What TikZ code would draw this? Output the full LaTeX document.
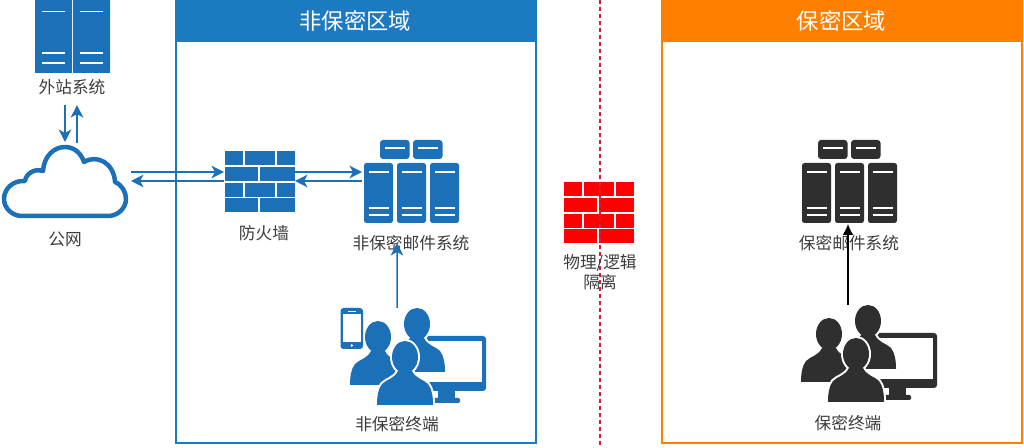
\documentclass[tikz,border=0pt]{standalone}
\usepackage{fontspec}
\setmainfont{Noto Sans CJK SC}
\usetikzlibrary{arrows.meta}
\definecolor{zoneblue}{HTML}{1C7AC0}
\definecolor{iconblue}{HTML}{1B70B8}
\definecolor{zoneorange}{HTML}{FF8000}
\definecolor{icondark}{HTML}{2F2F2F}
\definecolor{labelgray}{HTML}{3C3C3C}
\definecolor{splitred}{HTML}{D81E3C}
\tikzset{
	label/.style={text=labelgray, font=\fontsize{9.5}{11.5}\selectfont, inner sep=0pt, align=center},
	zonebox/.style={draw=#1, line width=0.035cm, fill=white, minimum width=7.2cm, minimum height=8.9cm, anchor=north west, inner sep=0pt},
	zonehead/.style={fill=#1, text=white, font=\fontsize{12.7}{14}\selectfont, minimum width=7.2cm, minimum height=0.84cm, anchor=north west, inner sep=0pt},
	blueflow/.style={-{Stealth[length=0.25cm,width=0.25cm,inset=0.07cm]}, draw=iconblue, line width=0.03cm},
	blackflow/.style={-{Latex[length=0.22cm,width=0.22cm]}, draw=black, line width=0.03cm},
	pics/wall/.style={code={
		\foreach \y in {0,31.6}{
			\fill[#1] (0,\y) rectangle (18,\y+14);
			\fill[#1] (20,\y) rectangle (50,\y+14);
			\fill[#1] (52,\y) rectangle (70,\y+14);
			\fill[#1] (0,\y+15.8) rectangle (33,\y+29.8);
			\fill[#1] (35,\y+15.8) rectangle (70,\y+29.8);
		}
	}},
	pics/rack/.style={code={
		\fill[#1, rounded corners=0.05cm] (0,0) rectangle (29,60);
		\foreach \y in {9,45,52}{
			\draw[white, line width=0.03cm] (4.5,\y) -- (24.5,\y);
		}
	}},
	pics/cluster/.style={code={
		\foreach \x in {16,49}{
			\fill[#1, rounded corners=0.06cm] (\x,-23) rectangle (\x+29.5,-4);
			\draw[white, line width=0.03cm] (\x+5,-15) -- (\x+24.5,-15);
		}
		\foreach \x in {0,33,66}{
			\pic at (\x,0) {rack=#1};
		}
	}},
	pics/person/.style={code={
		\path[draw=white, line width=0.08cm] (-28,48) .. controls (-28,40) and (-27,32) .. (-23,27)
			.. controls (-18,22) and (-11,22) .. (-7,14) -- (7,14)
			.. controls (11,22) and (18,22) .. (23,27)
			.. controls (27,32) and (28,40) .. (28,48) -- cycle;
		\path[draw=white, line width=0.08cm] (0,0) ellipse [x radius=13, y radius=16];
		\fill[#1] (-28,48) .. controls (-28,40) and (-27,32) .. (-23,27)
			.. controls (-18,22) and (-11,22) .. (-7,14) -- (7,14)
			.. controls (11,22) and (18,22) .. (23,27)
			.. controls (27,32) and (28,40) .. (28,48) -- cycle;
		\fill[#1] (0,0) ellipse [x radius=13, y radius=16];
	}},
	pics/crowd/.style={code={
		\fill[#1, rounded corners=0.06cm] (33,-1) rectangle (109,54);
		\fill[white] (37,4) rectangle (105,45);
		\fill[#1] (61,54) rectangle (78,62);
		\fill[#1, rounded corners=0.03cm] (56,61) rectangle (83,66);
		\pic at (40,-13) {person=#1};
		\pic at (1,0) {person=#1};
		\pic at (28,20) {person=#1};
	}},
}
\begin{document}
\begin{tikzpicture}[x=0.02cm,y=-0.02cm]
	\useasboundingbox (0,0) rectangle (1024,448);

	% zones
	\node[zonebox=zoneblue] (plainzone) at (175,-3) {};
	\node[zonebox=zoneorange] (secretzone) at (661,-3) {};
	\node[zonehead=zoneblue] (plainhead) at (175,0) {非保密区域};
	\node[zonehead=zoneorange] (secrethead) at (661,0) {保密区域};

	% split line
	\coordinate (splittop) at (600,0);
	\coordinate (splitbottom) at (600,448);
	\pic at (564,182) {wall=red};
	\draw[splitred, line width=0.028cm, dash pattern=on 0.085cm off 0.055cm] (splittop) -- (splitbottom);

	% outside system
	\foreach \x in {35,73}{
		\fill[iconblue, rounded corners=0.05cm] (\x,-3) rectangle (\x+37,73);
		\fill[iconblue] (\x,60) rectangle (\x+37,73);
		\foreach \y in {11.5,53,63}{
			\draw[white, line width=0.03cm] (\x+7,\y) -- (\x+30,\y);
		}
	}
	\node[label] (outerlabel) at (72,87) {外站系统};

	% public net
	\draw[iconblue, line width=0.09cm, line join=round] (22,216)
		.. controls (12,216) and (4,208) .. (4,199)
		.. controls (4,189) and (13,180) .. (25,181)
		.. controls (26,174) and (34,168) .. (43,171)
		.. controls (44,156) and (54,147) .. (65,147)
		.. controls (74,147) and (81,153) .. (84,162)
		.. controls (97,154) and (114,163) .. (115,182)
		.. controls (122,185) and (126,192) .. (126,199)
		.. controls (126,208) and (118,216) .. (108,216) -- cycle;
	\node[label] (netlabel) at (65,239) {公网};

	% plain side
	\pic at (225,151) {wall=iconblue};
	\node[label] (walllabel) at (264,233) {防火墙};
	\pic at (364,163) {cluster=iconblue};
	\node[label] (plainmail) at (411,243) {非保密邮件系统};
	\pic at (377,337) {crowd=iconblue};
	\fill[iconblue, rounded corners=0.06cm] (340.5,308) rectangle (363,349);
	\fill[white] (343,314) rectangle (361,342);
	\fill[white] (351.7,345.5) circle (1.3);
	\draw[white, line width=0.015cm] (348,311) -- (356,311);
	\node[label] (plainuser) at (397,424) {非保密终端};

	% secret side
	\pic at (802,163) {cluster=icondark};
	\node[label] (secretmail) at (849,243) {保密邮件系统};
	\pic at (828,334) {crowd=icondark};
	\node[label] (secretuser) at (848,423) {保密终端};
	\node[label] (splitlabel) at (600,272) {物理/逻辑\\隔离};

	% anchors of the arrows
	\coordinate (netup) at (65,142);
	\coordinate (netup2) at (77,143);
	\coordinate (fwleft) at (224,172);
	\coordinate (fwleft2) at (224,181);
	\coordinate (fwright) at (295,172);
	\coordinate (fwright2) at (295,181);
	\coordinate (mailleft) at (362,172);
	\coordinate (mailleft2) at (362,181);
	\coordinate (netright) at (131,172);
	\coordinate (netright2) at (131,181);
	\coordinate (plainfrom) at (397,308);
	\coordinate (secretfrom) at (848,305);
	\coordinate (secretto) at (848,224);

	\draw[blueflow] ([shift={(-7,10)}]outerlabel.south) -- (netup);
	\draw[blueflow] (netup2) -- ([shift={(5,10)}]outerlabel.south);
	\draw[blueflow] (netright) -- (fwleft);
	\draw[blueflow] (fwleft2) -- (netright2);
	\draw[blueflow] (fwright) -- (mailleft);
	\draw[blueflow] (mailleft2) -- (fwright2);
	\draw[blueflow] (plainfrom) -- ([xshift=-0.28cm]plainmail.center);
	\draw[blackflow] (secretfrom) -- (secretto);
\end{tikzpicture}
\end{document}
